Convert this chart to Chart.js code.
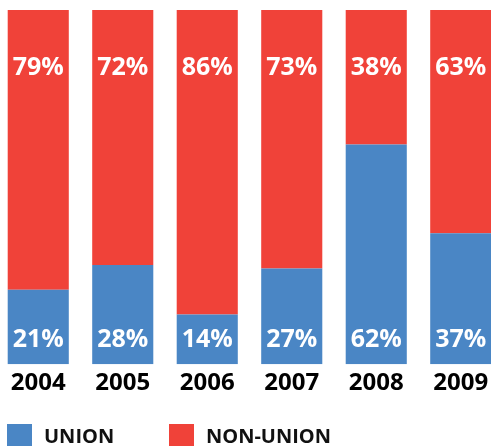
<!DOCTYPE html>
<html>
<head>
<meta charset="utf-8">
<script src="https://cdn.jsdelivr.net/npm/chart.js@4.4.1/dist/chart.umd.min.js"></script>
<style>
  html, body { margin: 0; padding: 0; background: #fff; overflow: hidden; }
  #wrap { width: 507px; height: 446px; position: absolute; left: -4px; top: 0; }
</style>
</head>
<body>
<div id="wrap"><canvas id="chart"></canvas></div>
<script>
// ===== data =====
const years = ['2004', '2005', '2006', '2007', '2008', '2009'];
const unionPct = [21, 28, 14, 27, 62, 37];
const nonUnionPct = [79, 72, 86, 73, 38, 63];

const BLUE = '#4a86c5';
const RED = '#f04239';
const FONT = "'Open Sans', 'DejaVu Sans', sans-serif";

// ===== plugins =====

// percentage labels inside the bars
const barLabels = {
    id: 'barLabels',
    afterDatasetsDraw(chart) {
        const ctx = chart.ctx;
        ctx.save();
        ctx.fillStyle = '#fff';
        ctx.font = `bold 25px ${FONT}`;
        ctx.textAlign = 'center';
        ctx.textBaseline = 'middle';
        chart.data.datasets.forEach((ds, di) => {
            const meta = chart.getDatasetMeta(di);
            meta.data.forEach((bar, i) => {
                const y = di === 0 ? bar.base - 24 : bar.y + 58;
                ctx.fillText(ds.data[i] + '%', bar.x, y);
            });
        });
        ctx.restore();
    }
};

// square legend along the bottom edge (canvas is shifted 4px left)
const squareLegend = {
    id: 'squareLegend',
    afterDraw(chart) {
        const ctx = chart.ctx;
        const xs = [11, 173];
        ctx.save();
        ctx.font = `bold 20px ${FONT}`;
        ctx.textBaseline = 'middle';
        chart.data.datasets.forEach((ds, i) => {
            ctx.fillStyle = ds.backgroundColor;
            ctx.fillRect(xs[i], 424, 25, 25);
            ctx.fillStyle = '#111';
            ctx.fillText(ds.label, xs[i] + 37, 437);
        });
        ctx.restore();
    }
};

Chart.register(barLabels, squareLegend);

// ===== app =====
new Chart(document.getElementById('chart'), {
    type: 'bar',
    data: {
        labels: years,
        datasets: [
            { label: 'UNION', data: unionPct, backgroundColor: BLUE },
            { label: 'NON-UNION', data: nonUnionPct, backgroundColor: RED }
        ]
    },
    options: {
        responsive: true,
        maintainAspectRatio: false,
        animation: false,
        events: [],
        layout: { padding: { top: 10, left: 0, right: 0, bottom: 51 } },
        plugins: {
            legend: { display: false },
            tooltip: { enabled: false }
        },
        datasets: {
            bar: { categoryPercentage: 1, barPercentage: 0.723 }
        },
        scales: {
            x: {
                stacked: true,
                grid: { display: false },
                border: { display: false },
                ticks: {
                    color: '#000',
                    padding: -3,
                    font: { family: FONT, size: 24, weight: 'bold' }
                }
            },
            y: {
                stacked: true,
                display: false,
                min: 0,
                max: 100
            }
        }
    }
});
</script>
</body>
</html>
